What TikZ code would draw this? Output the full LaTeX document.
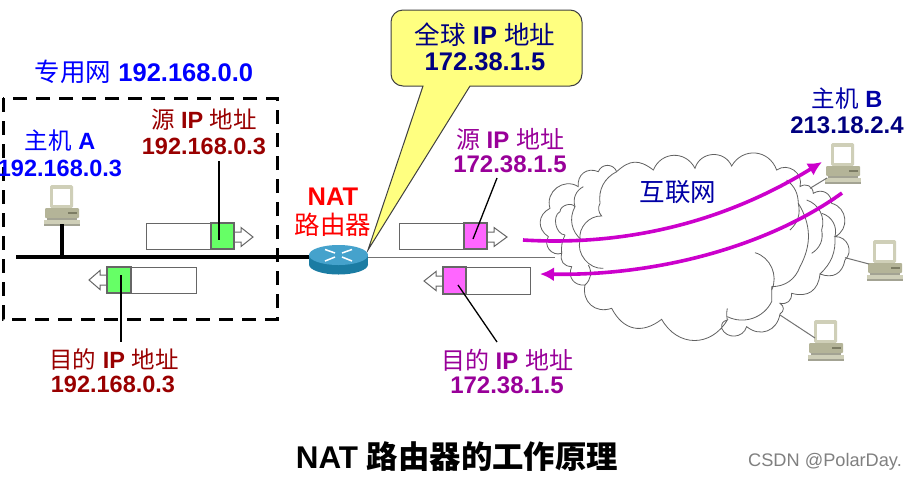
\documentclass[tikz,border=0pt]{standalone}
\usepackage{fontspec}
\setmainfont{Liberation Sans}
\newfontfamily\cjk{Noto Sans CJK SC}
\newcommand{\zh}[1]{{\cjk\mdseries #1}}
\usetikzlibrary{shapes.geometric,arrows.meta}
\definecolor{pcbody}{HTML}{B4B498}
\definecolor{pcdark}{HTML}{7C7C64}
\definecolor{pclite}{HTML}{CFCFB8}
\definecolor{netblue}{HTML}{0000FF}
\definecolor{darkred}{HTML}{990000}
\definecolor{purp}{HTML}{990099}
\definecolor{navy2}{HTML}{000080}
\definecolor{pktgreen}{HTML}{66FF66}
\definecolor{pktpink}{HTML}{FF66FF}
\definecolor{flow}{HTML}{CC00CC}
\definecolor{callfill}{HTML}{FFFF80}
\definecolor{rbody}{HTML}{1B7CA3}
\definecolor{rtop}{HTML}{45A2CC}
\tikzset{
  lbl/.style={font=\bfseries\fontsize{23.5}{26}\selectfont,inner sep=0pt,align=center},
  lblbig/.style={font=\bfseries\fontsize{25.5}{28}\selectfont,inner sep=0pt,align=center},
  lblmid/.style={font=\bfseries\fontsize{24}{26}\selectfont,inner sep=0pt,align=center},
  pktbox/.style={draw=black!60,fill=white,line width=1.1pt},
  hollow/.style={draw=black!60,fill=white,line width=1pt},
  leader/.style={draw=black,line width=1.3pt},
  thinlink/.style={draw=black!55,line width=1pt},
  cloudline/.style={draw=black!62,line width=0.8pt},
  flowline/.style={draw=flow,line width=3.6pt,-{Latex[length=14pt,width=14pt]}},
  pics/pc/.style={code={
    \fill[pclite,rounded corners=1.5pt] (6,0) rectangle (29,23);
    \fill[white] (9,4) rectangle (26,20);
    \fill[pcbody,rounded corners=1pt] (1,23) rectangle (35,33);
    \fill[pcdark] (24,27) rectangle (33,28.5);
    \fill[pcdark!70] (3,33) rectangle (33,34.5);
    \fill[pclite] (0,35) -- (36,35) -- (36,40) -- (0,40) -- cycle;
    \fill[pcdark!70] (0,39) rectangle (36,40.5);
  }}
}
\begin{document}
\begin{tikzpicture}[x=1pt,y=-1pt]
\useasboundingbox (0,0) rectangle (915,483);
\fill[white] (0,0) rectangle (915,483);

% thin line to the cloud
\coordinate (routerR) at (366,257);
\coordinate (cloudL) at (555,257);
\draw[thinlink] (routerR) -- (cloudL);

% cloud
\begin{scope}[shift={(520,90)},x=0.3333pt,y=-0.3333pt]
 \draw[cloudline,fill=white,looseness=1.25]
  (195,585) to[bend left=60] (155,530)
  to[bend left=50] (125,490)
  to[bend left=70] (85,440)
  to[bend left=60] (90,355)
  to[bend left=70] (175,290)
  to[bend left=60] (235,245)
  to[bend left=70] (290,245)
  to[bend left=40] (400,240)
  to[bend left=65] (525,235)
  to[bend left=70] (635,228)
  to[bend left=65] (770,240)
  to[bend left=70] (840,290)
  to[bend left=60] (880,310)
  to[bend left=60] (935,340)
  to[bend left=70] (945,440)
  to[bend left=70] (975,510)
  to[bend left=50] (900,552)
  to[bend left=50] (815,610)
  to[bend left=50] (780,640)
  to[bend left=60] (780,672)
  to[bend left=60] (680,710)
  to[bend left=70] (605,715)
  to[bend left=40] (622,690)
  to[bend left=60] (425,688)
  to[bend left=50] (275,655)
  to[bend left=60] (195,585) -- cycle;
 \draw[cloudline]
  (250,535) to[bend left=55] (180,450) to[bend left=50] (245,378) to[bend left=35] (240,340)  to[bend left=35] (290,245);
 \draw[cloudline] (185,450) to[bend left=40] (165,350) to[bend left=40] (190,290);
 \draw[cloudline] (135,435) to[bend left=75] (120,365) to[bend left=70] (165,350);
 \draw[cloudline] (195,585) to[bend right=40] (205,525);
 \draw[cloudline] (125,490) to[bend left=15] (135,435);
 \draw[cloudline] (705,488) to[bend left=50] (755,600);
 \draw[cloudline] (755,590) to[bend right=35] (840,530) to[bend right=30] (835,340);
 \draw[cloudline] (810,420) to[bend right=30] (835,340) to[bend right=25] (800,270);
 \draw[cloudline] (875,490) to[bend right=35] (905,420) to[bend right=45] (860,330);
 \draw[cloudline] (900,552) to[bend right=25] (945,440) to[bend right=45] (905,370);
 \draw[cloudline] (622,655) to[bend right=10] (622,690);
 \draw[cloudline] (622,680) to[bend right=45] (755,635) -- (755,590);
 \coordinate (cl1) at (870,295);
 \coordinate (cl2) at (975,503);
 \coordinate (cl3) at (780,675);
\end{scope}

% private network
\draw[black,line width=3pt,dash pattern=on 14pt off 9pt] (3,98) rectangle (277,319);
\coordinate (lineL) at (16,257);
\coordinate (routerL) at (312,257);
\draw[black,line width=4pt] (lineL) -- (routerL);

% hosts
\pic at (44,185) {pc};
\pic at (825,143) {pc};
\pic at (867,240) {pc};
\pic at (808,320) {pc};
\coordinate (hostAb) at (62,224);
\coordinate (hostAl) at (62,257);
\draw[black,line width=4pt] (hostAb) -- (hostAl);
\coordinate (hostB) at (827,178);
\coordinate (hostC) at (869,264);
\coordinate (hostD) at (815,338);
\draw[thinlink] (cl1) -- (hostB);
\draw[thinlink] (cl2) -- (hostC);
\draw[thinlink] (cl3) -- (hostD);

% packets
\draw[hollow] (234,232) -- (241,232) -- (241,227.5) -- (253,237) -- (241,246.5) -- (241,242) -- (234,242) -- cycle;
\node[pktbox,minimum width=88pt,minimum height=26pt,inner sep=0pt,anchor=north west] (p1) at (146,223) {};
\fill[pktgreen,draw=black!60,line width=1.1pt] (211,223) rectangle (234,249);
\draw[hollow] (107,275) -- (100,275) -- (100,270.5) -- (89,280) -- (100,289.5) -- (100,285) -- (107,285) -- cycle;
\node[pktbox,minimum width=89pt,minimum height=26pt,inner sep=0pt,anchor=north west] (p2) at (107,267) {};
\fill[pktgreen,draw=black!60,line width=1.1pt] (107,267) rectangle (131,293);
\draw[hollow] (487,232) -- (494,232) -- (494,227.5) -- (507,237) -- (494,246.5) -- (494,242) -- (487,242) -- cycle;
\node[pktbox,minimum width=88pt,minimum height=26pt,inner sep=0pt,anchor=north west] (p3) at (399,223) {};
\fill[pktpink,draw=black!60,line width=1.1pt] (464,223) rectangle (487,249);
\draw[hollow] (443,276) -- (436,276) -- (436,271.5) -- (424,281) -- (436,290.5) -- (436,286) -- (443,286) -- cycle;
\node[pktbox,minimum width=87pt,minimum height=27pt,inner sep=0pt,anchor=north west] (p4) at (443,267) {};
\fill[pktpink,draw=black!60,line width=1.1pt] (443,267) rectangle (466,294);

% callout
\coordinate (tail) at (368,250);
\path[draw=black!75,fill=callfill,line width=1pt]
  (tail) -- (423,86) [rounded corners=12pt] -- (391,86) -- (391,10) -- (582,10) -- (582,86) [rounded corners=0pt] -- (470,86) -- cycle;

% router
\fill[rbody] (338.5,264.5) ellipse [x radius=29.5pt,y radius=10pt];
\fill[rbody] (309,255) rectangle (368,264.5);
\fill[rtop] (338.5,255) ellipse [x radius=29.5pt,y radius=10pt];
\begin{scope}[white,line width=1.5pt]
 \draw (325,249.5) -- (335,253);
 \draw (352,249.5) -- (342,253);
 \draw (325,261) -- (335,257);
 \draw (352,261) -- (342,257);
\end{scope}

% flows
\coordinate (f1a) at (523,240);
\coordinate (f1b) at (822,162);
\coordinate (f2a) at (842,193);
\coordinate (f2b) at (540,274);
\draw[flowline] (f1a) .. controls (620,246) and (720,225) .. (f1b);
\draw[flowline] (f2a) .. controls (770,245) and (660,276) .. (f2b);

% labels
\node[lblbig,text=netblue] (privnet) at (144,72) {\zh{专用网} 192.168.0.0};
\node[lbl,text=netblue] (hostAn) at (60,141) {\zh{主机} A};
\node[lbl,text=netblue] (hostAip) at (60,168) {192.168.0.3};
\node[lbl,text=darkred] (s1a) at (204,120) {\zh{源} IP \zh{地址}};
\node[lbl,text=darkred] (s1b) at (204,146) {192.168.0.3};
\node[lbl,text=darkred] (d1a) at (114,359) {\zh{目的} IP \zh{地址}};
\node[lbl,text=darkred] (d1b) at (113,384) {192.168.0.3};
\node[lblbig,text=red] (nat) at (333,197) {NAT};
\node[lblbig,text=red] (nat2) at (333,225) {\zh{路由器}};
\node[lblbig,text=navy2] (g1) at (485,35) {\zh{全球} IP \zh{地址}};
\node[lblbig,text=navy2] (g2) at (485,62) {172.38.1.5};
\node[lblmid,text=purp] (s2a) at (510,139) {\zh{源} IP \zh{地址}};
\node[lblmid,text=purp] (s2b) at (510,164) {172.38.1.5};
\node[lblmid,text=purp] (d2a) at (507,360) {\zh{目的} IP \zh{地址}};
\node[lblmid,text=purp] (d2b) at (507,385) {172.38.1.5};
\node[lblbig,text=navy2!70!blue] (net) at (678,192) {\zh{互联网}};
\node[lbl,text=navy2!70!blue] (hostBn) at (847,99) {\zh{主机} B};
\node[lblmid,text=navy2] (hostBip) at (847,125) {213.18.2.4};
\node[font=\bfseries\fontsize{31.4}{34}\selectfont,inner sep=0pt] (title) at (457,457) {NAT {\cjk\bfseries 路由器的工作原理}};
\node[font=\fontsize{18.2}{20}\selectfont,text=black!50,inner sep=0pt] (wm) at (825,462) {CSDN @PolarDay.};

% leaders
\coordinate (l1t) at (219,161);
\coordinate (l1b) at (219,240);
\coordinate (l2t) at (121,275);
\coordinate (l2b) at (121,342);
\coordinate (l3t) at (497,178);
\coordinate (l3b) at (473,239);
\coordinate (l4t) at (458,285);
\coordinate (l4b) at (497,342);
\draw[leader] (l1t) -- (l1b);
\draw[leader] (l2t) -- (l2b);
\draw[leader] (l3t) -- (l3b);
\draw[leader] (l4t) -- (l4b);
\end{tikzpicture}
\end{document}
